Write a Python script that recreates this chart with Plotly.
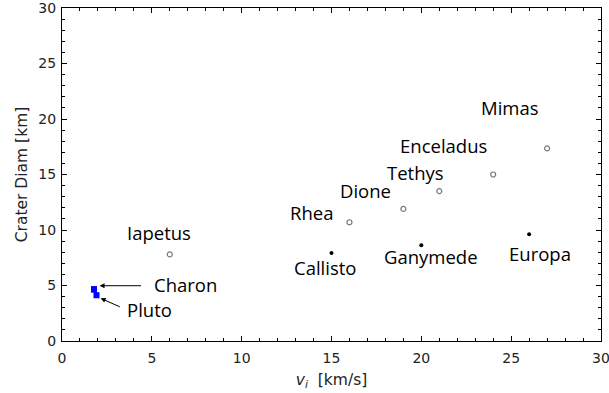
import plotly.graph_objects as go

# Icy satellites (open circles)
icy_names = ["Iapetus", "Rhea", "Dione", "Tethys", "Enceladus", "Mimas"]
icy_v = [6.0, 16.0, 19.0, 21.0, 24.0, 27.0]
icy_d = [7.8, 10.7, 11.9, 13.5, 15.0, 17.35]

# Galilean satellites (filled dots)
gal_names = ["Callisto", "Ganymede", "Europa"]
gal_v = [15.0, 20.0, 26.0]
gal_d = [7.93, 8.63, 9.62]

# Pluto system (blue ranges)
pc_names = ["Charon", "Pluto"]
pc_v = [1.78, 1.92]
pc_dmin = [4.35, 3.85]
pc_dmax = [4.95, 4.40]

# label positions (data coords)
lab_names = ["Iapetus", "Rhea", "Dione", "Tethys", "Enceladus", "Mimas",
             "Callisto", "Ganymede", "Europa", "Charon", "Pluto"]
lab_x = [5.39, 13.9, 16.91, 19.67, 21.23, 24.96, 14.65, 20.53, 26.58, 6.88, 4.87]
lab_y = [9.8, 11.6, 13.59, 15.15, 17.65, 21.07, 6.58, 7.57, 7.88, 5.11, 2.86]

# arrows: tail -> head
arr_tail_x = [4.48, 3.30]
arr_tail_y = [4.98, 3.02]
arr_head_x = [2.09, 2.15]
arr_head_y = [4.98, 3.85]

fig = go.Figure()
fig.add_trace(go.Scatter(x=icy_v, y=icy_d, mode="markers",
                         marker=dict(symbol="circle-open", size=5, color="#777777",
                                     line=dict(width=1.2, color="#777777")),
                         showlegend=False))
fig.add_trace(go.Scatter(x=gal_v, y=gal_d, mode="markers",
                         marker=dict(symbol="circle", size=4, color="black"),
                         showlegend=False))
for i in range(len(pc_names)):
    fig.add_trace(go.Scatter(x=[pc_v[i], pc_v[i]], y=[pc_dmin[i], pc_dmax[i]],
                             mode="lines", line=dict(color="#0000ff", width=6),
                             showlegend=False))

for n, x, y in zip(lab_names, lab_x, lab_y):
    fig.add_annotation(x=x, y=y, text=n, showarrow=False,
                       font=dict(family="Open Sans", size=18.5, color="black"))
for tx, ty, hx, hy in zip(arr_tail_x, arr_tail_y, arr_head_x, arr_head_y):
    fig.add_annotation(x=hx, y=hy, ax=tx, ay=ty, axref="x", ayref="y",
                       xref="x", yref="y", text="", showarrow=True,
                       arrowhead=2, arrowsize=1, arrowwidth=1, arrowcolor="black")

axis_common = dict(showline=True, linecolor="black", linewidth=1, mirror="allticks",
                   ticks="inside", ticklen=5, tickcolor="black", showgrid=False,
                   zeroline=False, automargin=False, ticklabeloverflow="allow",
                   tickfont=dict(family="DejaVu Sans", size=14, color="#222222"),
                   minor=dict(ticks="inside", ticklen=3, dtick=1, tickcolor="black"))

fig.update_xaxes(range=[0, 30], dtick=5, ticklabelstandoff=4,
                 title=dict(text="<i>v<sub>i</sub></i>  [km/s]", standoff=9,
                            font=dict(family="DejaVu Sans", size=15.5, color="#222222")),
                 **axis_common)
fig.update_yaxes(range=[0, 30], dtick=5, ticklabelstandoff=2,
                 title=dict(text="Crater Diam [km]", standoff=6,
                            font=dict(family="DejaVu Sans", size=15.5, color="#222222")),
                 **axis_common)

fig.update_layout(width=609, height=393, margin=dict(l=62, r=8, t=8, b=52),
                  plot_bgcolor="white", paper_bgcolor="white")
fig.write_html("out.html")
